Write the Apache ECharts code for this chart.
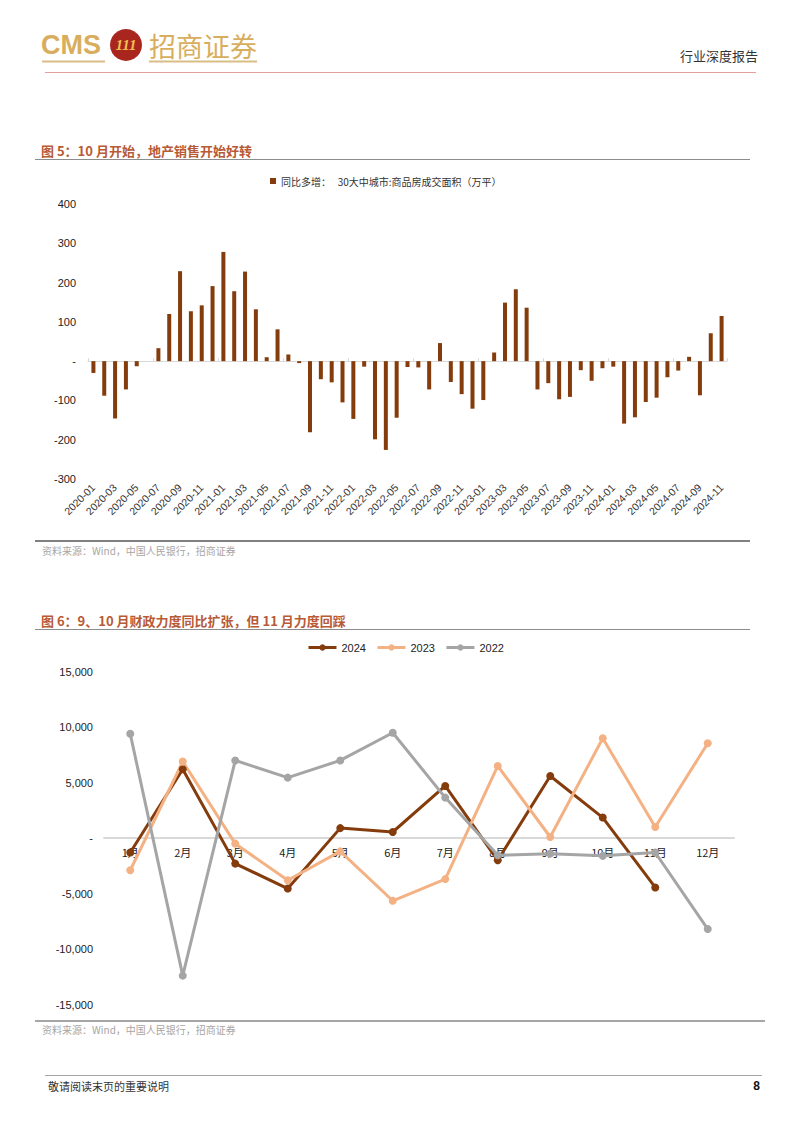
<!DOCTYPE html>
<html><head><meta charset="utf-8">
<script src="https://cdn.jsdelivr.net/npm/echarts@6/dist/echarts.min.js"></script>
<style>html,body{margin:0;padding:0;background:#fff}#main{width:802px;height:1133px}</style>
</head><body><div id="main"></div>
<script>
// ---------- Figure 5 data ----------
const monthCats = [
  '2020-01','2020-02','2020-03','2020-04','2020-05','2020-06','2020-07','2020-08','2020-09','2020-10','2020-11','2020-12',
  '2021-01','2021-02','2021-03','2021-04','2021-05','2021-06','2021-07','2021-08','2021-09','2021-10','2021-11','2021-12',
  '2022-01','2022-02','2022-03','2022-04','2022-05','2022-06','2022-07','2022-08','2022-09','2022-10','2022-11','2022-12',
  '2023-01','2023-02','2023-03','2023-04','2023-05','2023-06','2023-07','2023-08','2023-09','2023-10','2023-11','2023-12',
  '2024-01','2024-02','2024-03','2024-04','2024-05','2024-06','2024-07','2024-08','2024-09','2024-10','2024-11'
];
const salesDiff = [
  -30, -88, -146, -72, -13, 0, 33, 120, 229, 127, 142, 191,
  278, 178, 228, 132, 10, 81, 17, -5, -181, -46, -54, -105,
  -147, -14, -199, -226, -144, -15, -16, -72, 46, -53, -84, -121,
  -99, 22, 149, 183, 136, -72, -56, -97, -91, -23, -50, -18,
  -14, -159, -143, -104, -93, -41, -24, 11, -87, 71, 115
];
const salesSeriesName = '同比多增：   30大中城市:商品房成交面积（万平）';

// ---------- Figure 6 data ----------
const fiscalMonths = ['1月','2月','3月','4月','5月','6月','7月','8月','9月','10月','11月','12月'];
const fiscal2024 = [-1300, 6200, -2300, -4550, 900, 550, 4700, -2000, 5600, 1850, -4450, null];
const fiscal2023 = [-2900, 6900, -500, -3800, -1200, -5650, -3700, 6500, 100, 9000, 1000, 8550];
const fiscal2022 = [9400, -12400, 7000, 5450, 7000, 9500, 3650, -1550, -1400, -1600, -1300, -8200];

const NUM_FONT = "'Liberation Sans', Arial, sans-serif";
const CJK_FONT = "'Noto Sans CJK SC', sans-serif";
const TITLE_COLOR = '#B85A36';

function txt(x, y, text, font, fill, align) {
  return { type: 'text', x: x, y: y, silent: true,
    style: { text: text, font: font, fill: fill, align: align || 'left', verticalAlign: 'middle' } };
}
function hline(x1, x2, y, stroke, w) {
  return { type: 'line', silent: true, shape: { x1: x1, y1: y, x2: x2, y2: y }, style: { stroke: stroke, lineWidth: w } };
}

const chart = echarts.init(document.getElementById('main'), null, { renderer: 'svg' });

const grid2Top = 671.7, grid2Height = 332.8;
const option = {
  animation: false,
  backgroundColor: '#fff',
  textStyle: { fontFamily: NUM_FONT },
  grid: [
    { left: 88, right: 75, top: 204, height: 275 },
    { left: 104, right: 68, top: grid2Top, height: grid2Height }
  ],
  legend: [
    { data: [salesSeriesName], left: 265, top: 171, icon: 'rect', itemWidth: 6, itemHeight: 6,
      itemGap: 6, textStyle: { fontSize: 10, color: '#333', fontFamily: CJK_FONT } },
    { data: ['2024', '2023', '2022'], left: 302, top: 637, itemWidth: 28, itemHeight: 8, itemGap: 10,
      lineStyle: { width: 3 },
      textStyle: { fontSize: 11, color: '#222', fontFamily: NUM_FONT } }
  ],
  xAxis: [
    { gridIndex: 0, type: 'category', data: monthCats, position: 'bottom',
      axisLine: { show: false, onZero: false }, axisTick: { show: false },
      axisLabel: { rotate: 45, interval: 1, fontSize: 10.5, color: '#333', margin: 7, fontFamily: NUM_FONT } },
    { gridIndex: 0, type: 'category', data: monthCats,
      axisLine: { show: true, onZero: true, lineStyle: { color: '#D9D9D9', width: 1 } },
      axisTick: { show: true, length: 3, lineStyle: { color: '#D9D9D9' } },
      axisLabel: { show: false } },
    // month labels just under the zero line (offset from the grid bottom to the zero value)
    { gridIndex: 1, type: 'category', data: fiscalMonths, position: 'bottom',
      offset: -grid2Height / 2,
      axisLine: { show: false, onZero: false }, axisTick: { show: false },
      axisLabel: { fontSize: 11, color: '#222', margin: 8, fontFamily: CJK_FONT } },
    { gridIndex: 1, type: 'category', data: fiscalMonths,
      axisLine: { show: true, onZero: true, lineStyle: { color: '#D9D9D9', width: 2 } },
      axisTick: { show: false }, axisLabel: { show: false } }
  ],
  yAxis: [
    { gridIndex: 0, type: 'value', min: -300, max: 400, interval: 100,
      axisLine: { show: false }, axisTick: { show: false }, splitLine: { show: false },
      axisLabel: { fontSize: 11, color: '#222', margin: 12, fontFamily: NUM_FONT,
        formatter: v => v === 0 ? '-' : String(v) } },
    { gridIndex: 1, type: 'value', min: -15000, max: 15000, interval: 5000,
      axisLine: { show: false }, axisTick: { show: false }, splitLine: { show: false },
      axisLabel: { fontSize: 11, color: '#222', margin: 11, fontFamily: NUM_FONT,
        formatter: v => v === 0 ? '-' : v.toLocaleString('en-US') } }
  ],
  series: [
    { name: salesSeriesName, type: 'bar', xAxisIndex: 0, yAxisIndex: 0, data: salesDiff,
      barWidth: 4, itemStyle: { color: '#843C0C' } },
    { name: '2024', type: 'line', xAxisIndex: 2, yAxisIndex: 1, data: fiscal2024,
      symbol: 'circle', symbolSize: 8, lineStyle: { width: 3, color: '#843C0C' }, itemStyle: { color: '#843C0C' } },
    { name: '2023', type: 'line', xAxisIndex: 2, yAxisIndex: 1, data: fiscal2023,
      symbol: 'circle', symbolSize: 8, lineStyle: { width: 3, color: '#F4B183' }, itemStyle: { color: '#F4B183' } },
    { name: '2022', type: 'line', xAxisIndex: 2, yAxisIndex: 1, data: fiscal2022,
      symbol: 'circle', symbolSize: 8, lineStyle: { width: 3, color: '#A5A5A5' }, itemStyle: { color: '#A5A5A5' } }
  ],
  graphic: [
    // header
    txt(41, 45, 'CMS', "bold 27px 'Liberation Sans Narrow', 'Liberation Sans', sans-serif", '#D8AE5E'),
    { type: 'circle', silent: true, shape: { cx: 126, cy: 45, r: 16 }, style: { fill: '#A8261E' } },
    txt(126, 45, '111', "italic bold 15px 'Liberation Serif', serif", '#F2C14E', 'center'),
    txt(149, 45, '招商证券', "27px " + CJK_FONT, '#D8AE5E'),
    hline(42, 105, 61.5, '#D8BE86', 2),
    hline(149, 257, 61.5, '#D8BE86', 2),
    txt(758, 55, '行业深度报告', "13px " + CJK_FONT, '#333', 'right'),
    hline(45, 756, 72.5, '#E2A09C', 1),

    // figure 5
    txt(41, 150, '图 5：10 月开始，地产销售开始好转', "bold 13px " + CJK_FONT, TITLE_COLOR),
    hline(35, 750, 159.5, '#8C8C8C', 1),
    hline(35, 750, 541, '#808080', 2),
    txt(42, 550, '资料来源：Wind，中国人民银行，招商证券', "10px " + CJK_FONT, '#A6A6A6'),

    // figure 6
    txt(41, 620, '图 6：9、10 月财政力度同比扩张，但 11 月力度回踩', "bold 13px " + CJK_FONT, TITLE_COLOR),
    hline(35, 750, 629.5, '#8C8C8C', 1),
    hline(35, 765, 1021, '#A6A6A6', 2),
    txt(42, 1029, '资料来源：Wind，中国人民银行，招商证券', "10px " + CJK_FONT, '#A6A6A6'),

    // footer
    hline(45, 762, 1075.5, '#A6A6A6', 1),
    txt(48, 1086, '敬请阅读末页的重要说明', "11px " + CJK_FONT, '#333'),
    txt(760, 1086, '8', "bold 12px " + NUM_FONT, '#111', 'right')
  ]
};
chart.setOption(option);
</script>
</body></html>
